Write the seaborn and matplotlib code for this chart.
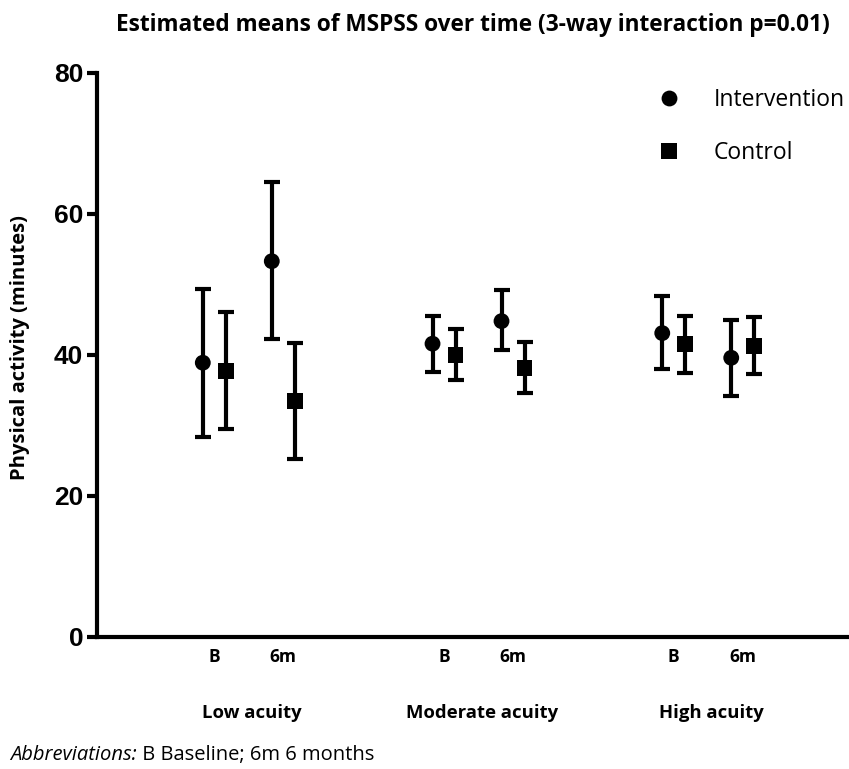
import numpy as np
import pandas as pd
import seaborn as sns
import matplotlib.pyplot as plt

# values (minutes)
acuity = ["Low acuity", "Moderate acuity", "High acuity"]
times = ["B", "6m"]
int_mean = [38.9, 53.3, 41.6, 44.8, 43.1, 39.6]
int_lo = [28.4, 42.3, 37.6, 40.7, 38.0, 34.2]
int_hi = [49.4, 64.5, 45.5, 49.2, 48.3, 45.0]
ctrl_mean = [37.7, 33.5, 40.0, 38.2, 41.5, 41.3]
ctrl_lo = [29.5, 25.2, 36.5, 34.6, 37.5, 37.3]
ctrl_hi = [46.1, 41.7, 43.7, 41.9, 45.5, 45.4]

group_gap = 3.33
offset = 0.167
slots = [g * group_gap + t for g in range(len(acuity)) for t in range(len(times))]

rows = []
for i, s in enumerate(slots):
    rows.append({'pos': s - offset, 'mean': int_mean[i], 'lo': int_lo[i], 'hi': int_hi[i], 'arm': 'Intervention'})
    rows.append({'pos': s + offset, 'mean': ctrl_mean[i], 'lo': ctrl_lo[i], 'hi': ctrl_hi[i], 'arm': 'Control'})
df = pd.DataFrame(rows)

sns.set_style('white')
plt.rcParams['font.family'] = ['Open Sans', 'DejaVu Sans']
plt.rcParams['text.color'] = 'black'
plt.rcParams['xtick.color'] = 'black'
plt.rcParams['ytick.color'] = 'black'

fig = plt.figure(figsize=(8.49, 7.69), dpi=100)
ax = fig.add_axes([0.1143, 0.1717, 0.8857, 0.7334])

ax.errorbar(df['pos'], df['mean'], yerr=[df['mean'] - df['lo'], df['hi'] - df['mean']],
            fmt='none', ecolor='black', elinewidth=3, capsize=5.5, capthick=3, zorder=2)
sns.scatterplot(data=df, x='pos', y='mean', hue='arm', style='arm',
                markers={'Intervention': 'o', 'Control': 's'},
                palette={'Intervention': 'black', 'Control': 'black'},
                s=130, edgecolor='black', linewidth=0, zorder=3, ax=ax)

ax.set_xlim(-1.70, 9.2)
ax.set_ylim(0, 80)
ax.set_yticks([0, 20, 40, 60, 80])
ax.set_xticks(slots)
ax.set_xticklabels(times * len(acuity), fontsize=12.5, fontweight='bold')
for lab in ax.get_yticklabels():
    lab.set_family('Liberation Sans')
    lab.set_fontweight('bold')
    lab.set_fontsize(19)
ax.tick_params(axis='y', length=7, width=3, pad=3, left=True, colors='black')
ax.tick_params(axis='x', length=0, pad=8, colors='black')
ax.set_xlabel('')
ax.set_ylabel('')
sns.despine(ax=ax)
for sp in ['left', 'bottom']:
    ax.spines[sp].set_linewidth(3)
    ax.spines[sp].set_color('black')

for g, name in enumerate(acuity):
    ax.text(g * group_gap + 0.55, -0.135, name, transform=ax.get_xaxis_transform(),
            ha='center', va='center', fontsize=13.3, fontweight='bold')

handles, labels = ax.get_legend_handles_labels()
ax.legend(handles, labels, loc='upper left', bbox_to_anchor=(0.7615, 0.900),
          bbox_transform=fig.transFigure, frameon=False, borderpad=0,
          fontsize=16.5, handlelength=1, handletextpad=1.42, labelspacing=1.27,
          labelcolor='black')

fig.text(0.557, 0.968, 'Estimated means of MSPSS over time (3-way interaction p=0.01)',
         ha='center', va='center', fontsize=16.3, fontweight='bold')
fig.text(0.024, 0.548, 'Physical activity (minutes)', rotation=90, ha='center', va='center',
         fontsize=14.5, fontweight='bold')

t1 = fig.text(0.012, 0.018, 'Abbreviations:', ha='left', va='center', fontsize=14.5, style='italic')
ax.annotate(' B Baseline; 6m 6 months', xy=(1, 0.5), xycoords=t1, ha='left', va='center',
            fontsize=14.5, annotation_clip=False)

fig.savefig('out.png', dpi=100)
